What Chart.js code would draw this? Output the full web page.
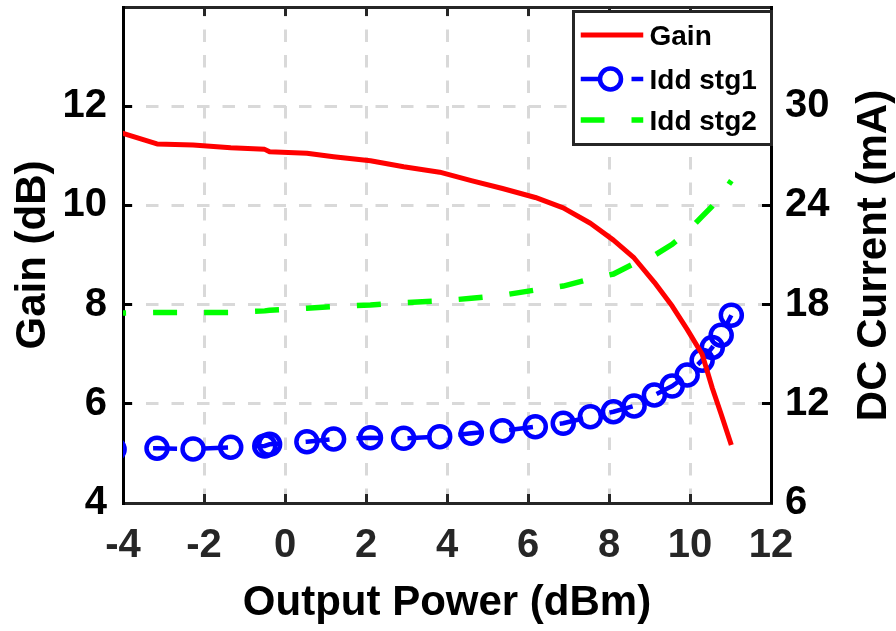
<!DOCTYPE html>
<html>
<head>
<meta charset="utf-8">
<script src="https://cdn.jsdelivr.net/npm/chart.js@4.4.1/dist/chart.umd.min.js"></script>
<style>
  html, body { margin: 0; padding: 0; background: #ffffff; }
  canvas { display: block; }
</style>
</head>
<body>
<canvas id="chart" width="896" height="631"></canvas>
<script>
// ---- data ----
const outputPower = [-4.22, -3.16, -2.27, -1.34, -0.50, -0.38, 0.54, 1.20, 2.11, 2.93, 3.82, 4.60, 5.37,
                     6.18, 6.87, 7.54, 8.11, 8.62, 9.12, 9.56, 9.93, 10.30, 10.55, 10.77, 11.02];
const gainDb = [11.51, 11.24, 11.22, 11.16, 11.13, 11.08, 11.05, 10.98, 10.90, 10.78, 10.67, 10.50, 10.34,
                10.16, 9.95, 9.64, 9.30, 8.94, 8.45, 7.97, 7.50, 7.00, 6.32, 5.79, 5.17];
const iddStg1 = [9.25, 9.31, 9.27, 9.37, 9.45, 9.55, 9.71, 9.87, 9.95, 9.91, 10.01, 10.22, 10.37,
                 10.61, 10.82, 11.22, 11.52, 11.87, 12.53, 13.07, 13.74, 14.64, 15.41, 16.15, 17.36];
const iddStg2 = [17.48, 17.52, 17.52, 17.53, 17.62, 17.66, 17.78, 17.88, 17.98, 18.12, 18.22, 18.38, 18.57,
                 18.88, 19.12, 19.55, 19.85, 20.48, 20.98, 21.65, 22.40, 23.34, 23.96, 24.60, 25.50];

const xTickValues = [-4, -2, 0, 2, 4, 6, 8, 10, 12];
const gainTickValues = [4, 6, 8, 10, 12];
const currentTickValues = [6, 12, 18, 24, 30];

const seriesLabels = ['Gain', 'Idd stg1', 'Idd stg2'];
const xTitle = 'Output Power (dBm)';
const yTitle = 'Gain (dB)';
const y2Title = 'DC Current (mA)';

// ---- helpers ----
const FONT = "'Liberation Sans', Arial, Helvetica, sans-serif";
const toPoints = ys => outputPower.map((x, i) => ({ x: x, y: ys[i] }));
const setTicks = vals => scale => { scale.ticks = vals.map(v => ({ value: v })); };
const fixSize = (prop, size) => s => {
  s[prop] = size;
  s.paddingTop = 0; s.paddingBottom = 0; s.paddingLeft = 0; s.paddingRight = 0;
};

// legend drawn as a framed box in the top-right corner of the plot
const boxLegend = {
  id: 'boxLegend',
  afterDraw(chart) {
    const ctx = chart.ctx;
    const a = chart.chartArea;
    const ds = chart.data.datasets;
    const w = 198, h = 133;
    const left = a.right - w + 0.5, top = a.top + 4.5;
    ctx.save();
    ctx.fillStyle = '#ffffff';
    ctx.fillRect(left, top, w, h);
    ctx.lineWidth = 3;
    ctx.strokeStyle = '#262626';
    ctx.strokeRect(left, top, w, h);
    const rows = [top + 23.5, top + 67.5, top + 108.5];
    ds.forEach((d, i) => {
      const y = rows[i];
      ctx.save();
      ctx.beginPath();
      ctx.rect(left + 7, y - 10, 63, 20);
      ctx.clip();
      ctx.beginPath();
      ctx.strokeStyle = d.borderColor;
      ctx.lineWidth = d.borderWidth;
      ctx.setLineDash(d.borderDash || []);
      ctx.lineDashOffset = 0;
      ctx.moveTo(left + 7, y);
      ctx.lineTo(left + 70, y);
      ctx.stroke();
      ctx.restore();
      if (d.pointRadius > 0) {
        ctx.beginPath();
        ctx.setLineDash([]);
        ctx.lineWidth = d.pointBorderWidth;
        ctx.strokeStyle = d.pointBorderColor;
        ctx.fillStyle = '#ffffff';
        ctx.arc(left + 37, y, d.pointRadius, 0, Math.PI * 2);
        ctx.fill();
        ctx.stroke();
      }
      ctx.setLineDash([]);
      ctx.fillStyle = '#000000';
      ctx.font = 'bold 28px ' + FONT;
      ctx.textAlign = 'left';
      ctx.textBaseline = 'middle';
      ctx.fillText(d.label, left + 76, y + 2.5);
    });
    ctx.restore();
  }
};

// right-hand axis title, reading bottom to top like the left one
const rightTitle = {
  id: 'rightTitle',
  afterDraw(chart) {
    const ctx = chart.ctx;
    const a = chart.chartArea;
    ctx.save();
    ctx.translate(a.right + 103, (a.top + a.bottom) / 2 + 0.5);
    ctx.rotate(-Math.PI / 2);
    ctx.fillStyle = '#000000';
    ctx.font = 'bold 42px ' + FONT;
    ctx.textAlign = 'center';
    ctx.textBaseline = 'middle';
    ctx.fillText(y2Title, 0, 0);
    ctx.restore();
  }
};

const tickFont = { family: FONT, size: 40, weight: 'bold' };
const titleFont = { family: FONT, size: 42, weight: 'bold' };

new Chart(document.getElementById('chart'), {
  type: 'line',
  data: {
    datasets: [
      {
        label: seriesLabels[0], data: toPoints(gainDb), xAxisID: 'x', yAxisID: 'y',
        borderColor: '#ff0000', borderWidth: 5, borderJoinStyle: 'round',
        pointRadius: 0, tension: 0, fill: false
      },
      {
        label: seriesLabels[1], data: toPoints(iddStg1), xAxisID: 'x', yAxisID: 'y2',
        borderColor: '#0000ff', borderWidth: 4.5, borderDash: [24, 27], borderDashOffset: 12,
        pointStyle: 'circle', pointRadius: 10.5, pointBorderWidth: 4.5,
        pointBorderColor: '#0000ff', pointBackgroundColor: 'rgba(0,0,0,0)',
        tension: 0, fill: false
      },
      {
        label: seriesLabels[2], data: toPoints(iddStg2), xAxisID: 'x', yAxisID: 'y2',
        borderColor: '#00ff00', borderWidth: 5.5, borderDash: [24, 27], borderDashOffset: 12,
        pointRadius: 0, tension: 0, fill: false
      }
    ]
  },
  options: {
    responsive: false,
    animation: false,
    events: [],
    layout: { padding: 0, autoPadding: false },
    plugins: { legend: { display: false }, tooltip: { enabled: false } },
    scales: {
      x: {
        type: 'linear', position: 'bottom', min: -4, max: 12,
        afterBuildTicks: setTicks(xTickValues),
        afterFit: fixSize('height', 128),
        grid: { color: '#d9d9d9', lineWidth: 3, tickLength: -9, tickColor: '#262626', tickWidth: 3 },
        border: { display: true, color: '#262626', width: 3, dash: [12.5, 13], dashOffset: 3 },
        ticks: { color: '#262626', font: tickFont, padding: 28, maxRotation: 0, autoSkip: false },
        title: { display: true, text: xTitle, color: '#000000', font: titleFont, padding: { top: 0, bottom: 2 } }
      },
      xTop: {
        type: 'linear', position: 'top', min: -4, max: 12,
        afterBuildTicks: setTicks(xTickValues),
        afterFit: fixSize('height', 7),
        grid: { drawOnChartArea: false, tickLength: -9, tickColor: '#262626', tickWidth: 3 },
        border: { display: true, color: '#262626', width: 3 },
        ticks: { display: false }
      },
      y: {
        type: 'linear', position: 'left', min: 4, max: 14,
        afterBuildTicks: setTicks(gainTickValues),
        afterFit: fixSize('width', 123),
        grid: { color: '#d9d9d9', lineWidth: 3, tickLength: -9, tickColor: '#000000', tickWidth: 3 },
        border: { display: true, color: '#000000', width: 3, dash: [12.5, 13], dashOffset: 4.5 },
        ticks: { color: '#000000', font: tickFont, padding: 25 },
        title: { display: true, text: yTitle, color: '#000000', font: titleFont, padding: { top: 8, bottom: 0 } }
      },
      y2: {
        type: 'linear', position: 'right', min: 6, max: 36,
        afterBuildTicks: setTicks(currentTickValues),
        afterFit: fixSize('width', 125),
        grid: { drawOnChartArea: false, tickLength: -9, tickColor: '#000000', tickWidth: 3 },
        border: { display: true, color: '#000000', width: 3 },
        ticks: { color: '#000000', font: tickFont, padding: 23 }
      }
    }
  },
  plugins: [boxLegend, rightTitle]
});
</script>
</body>
</html>
